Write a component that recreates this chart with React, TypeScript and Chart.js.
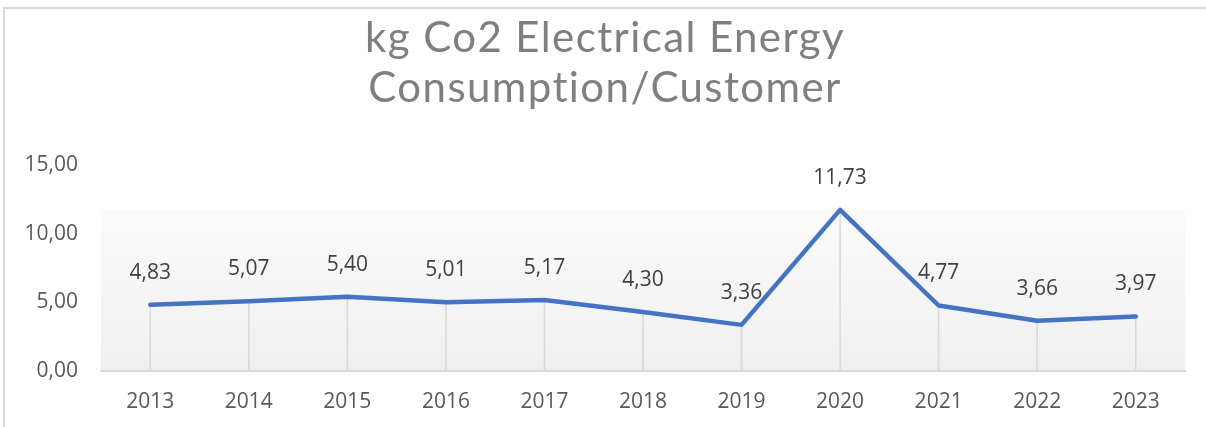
import React, { useEffect, useRef } from 'react';
import { Chart, registerables } from 'chart.js';

Chart.register(...registerables);

const years = ['2013', '2014', '2015', '2016', '2017', '2018', '2019', '2020', '2021', '2022', '2023'];
const values = [4.83, 5.07, 5.4, 5.01, 5.17, 4.3, 3.36, 11.73, 4.77, 3.66, 3.97];
const yMin = 0;
const yMax = 15;
const yStep = 5;
const titleLines = ['kg Co2 Electrical Energy', 'Consumption/Customer'];

const fmt = (v: number) => v.toFixed(2).replace('.', ',');

const bgPlugin = {
  id: 'bgPlugin',
  beforeDraw(chart: any) {
    const { ctx, chartArea, scales } = chart;
    const y = scales.y;
    const top = y.getPixelForValue(Math.max(...values));
    const bottom = chartArea.bottom;
    const g = ctx.createLinearGradient(0, top, 0, bottom);
    g.addColorStop(0, '#fbfbfb');
    g.addColorStop(1, '#efefef');
    ctx.save();
    ctx.fillStyle = g;
    ctx.fillRect(chartArea.left, top, chartArea.right - chartArea.left, bottom - top);
    const meta = chart.getDatasetMeta(0);
    ctx.strokeStyle = '#d9d9d9';
    ctx.lineWidth = 1.5;
    meta.data.forEach((pt: any) => {
      ctx.beginPath();
      ctx.moveTo(pt.x, pt.y);
      ctx.lineTo(pt.x, bottom);
      ctx.stroke();
    });
    ctx.restore();
  },
};

const labelPlugin = {
  id: 'labelPlugin',
  afterDatasetsDraw(chart: any) {
    const { ctx } = chart;
    const meta = chart.getDatasetMeta(0);
    ctx.save();
    ctx.font = '21px "Open Sans"';
    ctx.fillStyle = '#404040';
    ctx.textAlign = 'center';
    ctx.textBaseline = 'middle';
    meta.data.forEach((pt: any, i: number) => {
      ctx.fillText(fmt(values[i]), pt.x, pt.y - 32);
    });
    ctx.restore();
  },
};

const titlePlugin = {
  id: 'titlePlugin',
  afterDraw(chart: any) {
    const { ctx, width } = chart;
    ctx.save();
    ctx.font = '42px Lato';
    ctx.fillStyle = '#7f7f7f';
    ctx.textAlign = 'center';
    ctx.textBaseline = 'alphabetic';
    try { (ctx as any).letterSpacing = '1.4px'; } catch (e) {}
    const cx = width / 2 + 2;
    titleLines.forEach((line, i) => {
      ctx.fillText(line, cx, 52 + i * 50);
    });
    ctx.restore();
  },
};

export default function App() {
  const ref = useRef<HTMLCanvasElement>(null);
  useEffect(() => {
    document.body.style.margin = '0';
    const chart = new Chart(ref.current!, {
      type: 'line',
      data: {
        labels: years,
        datasets: [
          {
            data: values,
            borderColor: '#4472C4',
            borderWidth: 4.5,
            pointRadius: 0,
            tension: 0,
            borderJoinStyle: 'round',
            borderCapStyle: 'round',
          },
        ],
      },
      options: {
        animation: false,
        responsive: false,
        layout: { padding: { top: 165, left: 0, right: 21, bottom: 0 } },
        plugins: {
          legend: { display: false },
          tooltip: { enabled: false },
          title: { display: false },
        },
        scales: {
          x: {
            offset: true,
            grid: { display: false, drawTicks: false },
            border: { display: true, color: '#d9d9d9', width: 2 },
            ticks: { color: '#595959', font: { family: 'Open Sans', size: 21 }, padding: 18, maxRotation: 0 },
            afterFit: (s: any) => { s.height = 56; },
          },
          y: {
            min: yMin,
            max: yMax,
            grid: { display: false, drawTicks: false },
            border: { display: false },
            ticks: {
              stepSize: yStep,
              color: '#595959',
              font: { family: 'Open Sans', size: 21 },
              padding: 23,
              callback: (v: any) => fmt(Number(v)),
            },
            afterFit: (s: any) => { s.width = 101; },
          },
        },
      },
      plugins: [bgPlugin, labelPlugin, titlePlugin],
    });
    return () => chart.destroy();
  }, []);
  return (
    <div style={{ position: 'relative', width: 1206, height: 427, background: '#fff' }}>
      <canvas ref={ref} width={1206} height={427} style={{ display: 'block' }} />
      <div
        style={{
          position: 'absolute',
          left: 3,
          top: 7,
          right: 0,
          bottom: 0,
          borderLeft: '2px solid #d9d9d9',
          borderTop: '2px solid #d9d9d9',
          pointerEvents: 'none',
        }}
      />
    </div>
  );
}
